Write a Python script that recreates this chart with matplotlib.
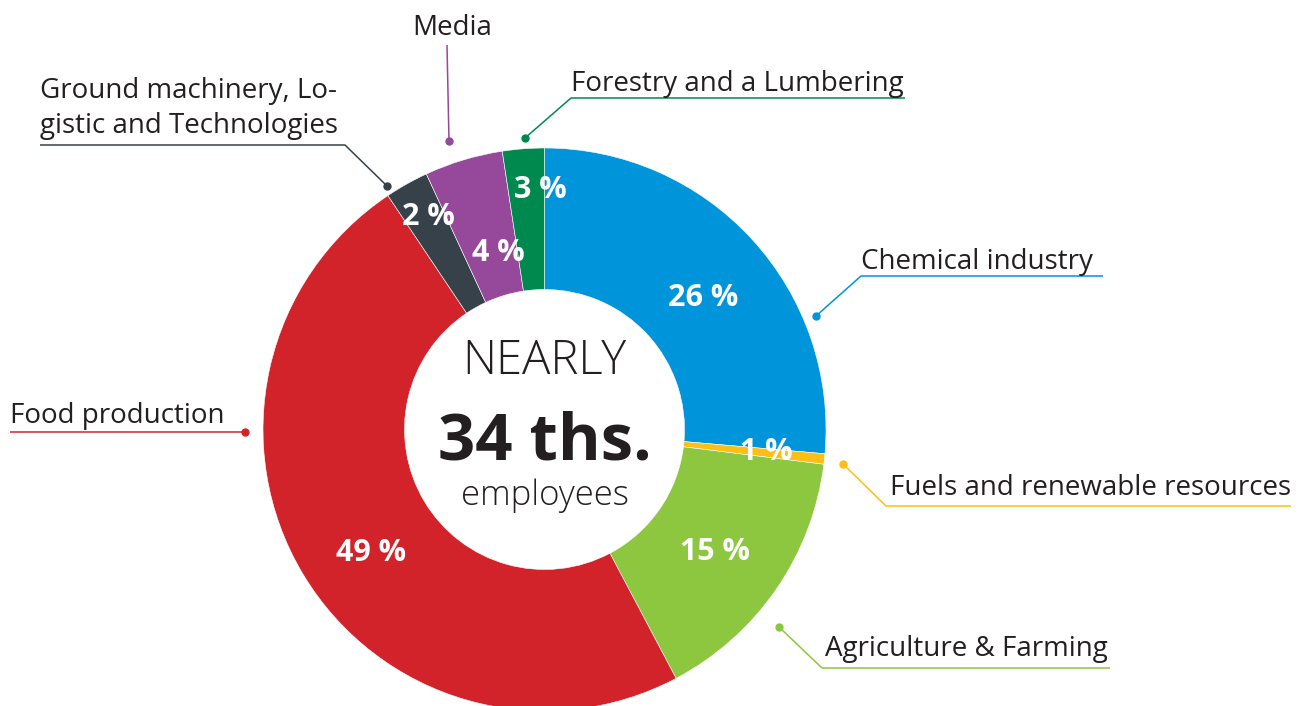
import matplotlib.pyplot as plt
import numpy as np

plt.rcParams['font.family'] = ['Open Sans', 'DejaVu Sans']

categories = ['Chemical industry', 'Fuels and renewable resources', 'Agriculture & Farming',
              'Food production', 'Ground machinery, Lo-\ngistic and Technologies', 'Media',
              'Forestry and a Lumbering']
shares = [26.4, 0.6, 15.3, 48.4, 2.5, 4.5, 2.4]
pct_labels = ['26 %', '1 %', '15 %', '49 %', '2 %', '4 %', '3 %']
colors = ['#0095da', '#fdbf14', '#8dc63f', '#d2232a', '#37414a', '#96489a', '#00894f']

txt = '#231f20'

fig = plt.figure(figsize=(13.11, 7.06), dpi=100)
ax = fig.add_axes([0, 0, 1, 1])

cx, cy, R = 544.5, 429.5, 281.5
wedges, _ = ax.pie(shares, colors=colors, startangle=-90, counterclock=True,
                   center=(cx, cy), radius=R, frame=True,
                   wedgeprops=dict(width=R - 140, edgecolor='white', linewidth=0.4))
ax.set_xlim(0, 1311)
ax.set_ylim(706, 0)
ax.set_aspect('equal')
ax.axis('off')

# percentage labels: radius fraction and small angle nudge per wedge
rfrac = [0.74, 0.79, 0.74, 0.75, 0.87, 0.66, 0.86]
nudge = [-2.2, 0.9, -0.5, 3.9, -1.1, -2.2, -3.3]
for w, lab, f, d in zip(wedges, pct_labels, rfrac, nudge):
    a = np.deg2rad((w.theta1 + w.theta2) / 2 - d)  # y axis is flipped
    ax.text(cx + f * R * np.cos(a), cy + f * R * np.sin(a) + 11, lab, color='white',
            fontsize=22, fontweight='bold', ha='center', va='baseline')

# centre text
ax.text(cx, 374, 'NEARLY', fontsize=34, fontweight='light', color=txt, ha='center', va='baseline')
ax.text(cx, 459, '34 ths.', fontsize=47, fontweight='bold', color=txt, ha='center', va='baseline')
ax.text(cx, 505, 'employees', fontsize=25, fontweight='light', color=txt, ha='center', va='baseline')

fs = 20
# callouts: (text x, baseline y, leader points)
callouts = [
    (861, 269, [(1103, 276), (861, 276), (816, 316)]),
    (890, 495, [(1291, 506), (886, 506), (843, 464)]),
    (825, 656, [(1110, 668), (822, 668), (779, 627)]),
    (10, 423, [(10, 432), (245, 432)]),
    (40, 133, [(40, 145), (345, 145), (387, 186)]),
    (412, 35, [(447, 45), (449, 141)]),
    (571, 91, [(905, 98), (571, 98), (525, 138)]),
]
for (tx, ty, pts), name, c in zip(callouts, categories, colors):
    ax.text(tx, ty, name, fontsize=fs, color=txt, ha='left', va='baseline',
            linespacing=1.34)
    xs, ys = zip(*pts)
    ax.plot(xs, ys, color=c, lw=1.1, solid_capstyle='butt')
    ax.plot(xs[-1], ys[-1], 'o', color=c, ms=5)

fig.savefig('out.png', dpi=100)
